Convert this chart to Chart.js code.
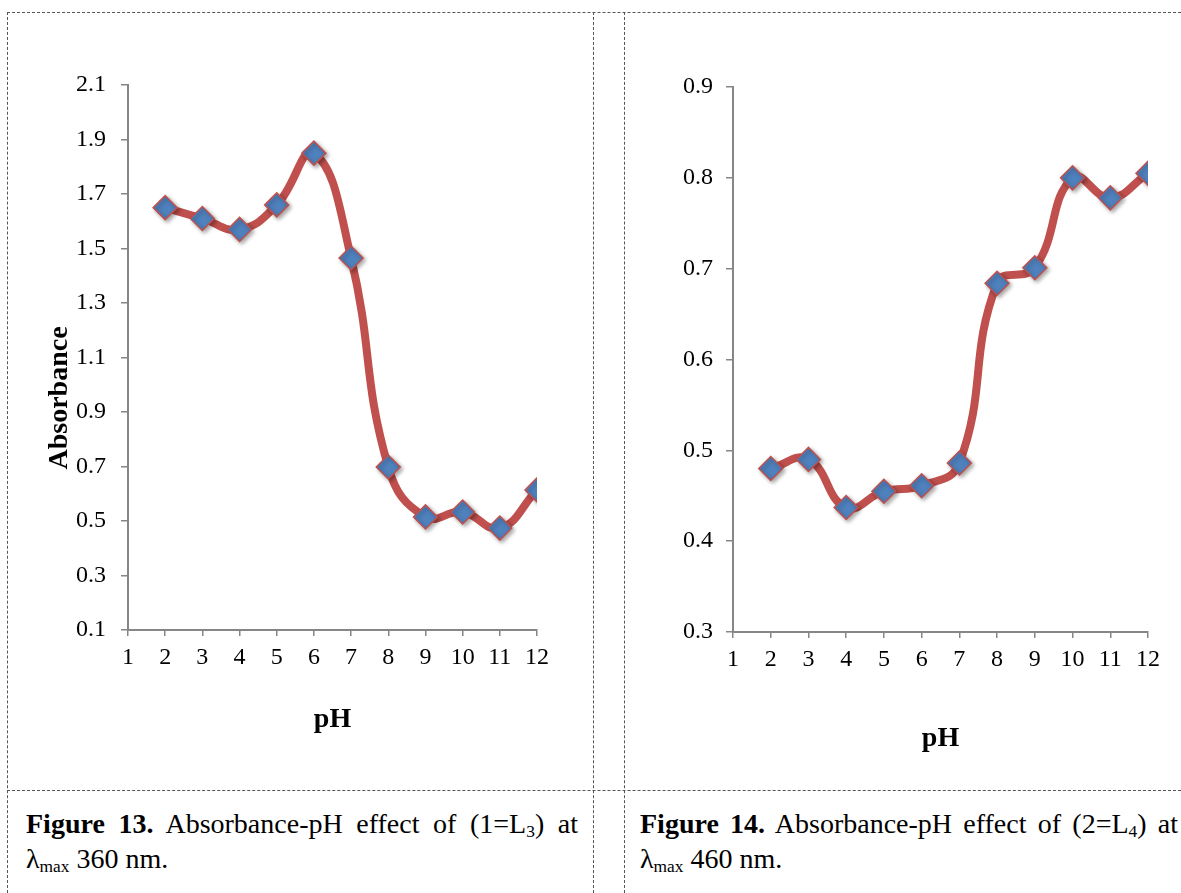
<!DOCTYPE html>
<html>
<head>
<meta charset="utf-8">
<script src="https://cdn.jsdelivr.net/npm/chart.js@4.4.1/dist/chart.umd.min.js"></script>
<style>
  body { margin: 0; background: #fff; width: 1181px; height: 893px; overflow: hidden; position: relative;
         font-family: "Liberation Serif", "Times New Roman", serif; }
  .h { position: absolute; height: 0; border-top: 1px dashed #555; }
  .v { position: absolute; width: 0; border-left: 1px dashed #555; }
  canvas { position: absolute; top: 0; }
  #c1 { left: 0; }
  #c2 { left: 600px; }
  .cap { position: absolute; top: 806px; font-size: 28px; line-height: 35px; color: #000; }
  .cap .l1 { display: block; text-align: justify; text-align-last: justify; white-space: nowrap; }
  .cap sub { font-size: 0.62em; vertical-align: -0.25em; line-height: 0; }
</style>
</head>
<body>
<!-- table borders -->
<div class="h" style="left:7px; top:12px; width:1174px;"></div>
<div class="h" style="left:7px; top:790px; width:1174px;"></div>
<div class="v" style="left:7px; top:12px; height:881px;"></div>
<div class="v" style="left:593px; top:12px; height:881px;"></div>
<div class="v" style="left:624px; top:12px; height:881px;"></div>

<canvas id="c1" width="593" height="790"></canvas>
<canvas id="c2" width="581" height="790"></canvas>

<div class="cap" style="left:26px; width:552px;">
  <span class="l1"><b>Figure 13.</b> Absorbance-pH effect of (1=L<sub>3</sub>) at</span>
  λ<sub>max</sub> 360 nm.
</div>
<div class="cap" style="left:640px; width:538px;">
  <span class="l1"><b>Figure 14.</b> Absorbance-pH effect of (2=L<sub>4</sub>) at</span>
  λ<sub>max</sub> 460 nm.
</div>

<script>
// data
const pH = [2, 3, 4, 5, 6, 7, 8, 9, 10, 11, 12];
const absL3 = [1.65, 1.61, 1.57, 1.66, 1.85, 1.465, 0.698, 0.515, 0.533, 0.474, 0.614];
const absL4 = [0.48, 0.49, 0.437, 0.455, 0.461, 0.486, 0.684, 0.701, 0.80, 0.778, 0.805];
const xTicks = [1, 2, 3, 4, 5, 6, 7, 8, 9, 10, 11, 12];
const yTicksL3 = [0.1, 0.3, 0.5, 0.7, 0.9, 1.1, 1.3, 1.5, 1.7, 1.9, 2.1];
const yTicksL4 = [0.3, 0.4, 0.5, 0.6, 0.7, 0.8, 0.9];

const axisGrey = "#868686";
const lineRed = "#C0504D";
const markerBlue = "#4F81BD";
const serif = "'Liberation Serif', 'Times New Roman', serif";

// rotated y title, drawn by hand so it can sit off-centre like the original
const yTitle = {
  id: "yTitle",
  afterDraw(chart, args, opts) {
    const ctx = chart.ctx;
    ctx.save();
    ctx.translate(opts.x, opts.y);
    ctx.rotate(-Math.PI / 2);
    ctx.font = "bold 28px " + serif;
    ctx.fillStyle = "#000";
    ctx.textAlign = "center";
    ctx.textBaseline = "middle";
    ctx.fillText(opts.text, 0, 0);
    ctx.restore();
  },
};

// soft drop shadow under the diamonds only (dataset 0)
const markerShadow = {
  id: "markerShadow",
  beforeDatasetDraw(chart, args) {
    if (args.index !== 0) return;
    const c = chart.ctx;
    c.save();
    c.shadowColor = "rgba(0,0,0,0.35)";
    c.shadowBlur = 4;
    c.shadowOffsetX = 2;
    c.shadowOffsetY = 2;
  },
  afterDatasetDraw(chart, args) {
    if (args.index === 0) chart.ctx.restore();
  },
};

function makeChart(id, ys, yTicks, box) {
  const pts = pH.map((x, i) => ({ x: x, y: ys[i] }));
  return new Chart(document.getElementById(id), {
    type: "scatter",
    data: {
      datasets: [
        {
          data: pts,
          showLine: false,
          pointStyle: "rectRot",
          pointRadius: 12,
          pointHoverRadius: 12,
          pointBackgroundColor: markerBlue,
          pointBorderColor: lineRed,
          pointBorderWidth: 1.5,
        },
        {
          data: pts,
          showLine: true,
          borderColor: lineRed,
          borderWidth: 8,
          tension: 0.45,
          pointRadius: 0,
          pointHoverRadius: 0,
        },
      ],
    },
    options: {
      responsive: false,
      animation: false,
      events: [],
      layout: { padding: { top: box.top, right: box.right, left: 0, bottom: 0 } },
      plugins: {
        legend: { display: false },
        tooltip: { enabled: false },
        yTitle: { text: "Absorbance", x: box.titleX, y: box.titleY },
      },
      scales: {
        x: {
          type: "linear",
          min: xTicks[0],
          max: xTicks[xTicks.length - 1],
          afterBuildTicks: (s) => { s.ticks = xTicks.map((v) => ({ value: v })); },
          afterFit: (s) => { s.height = box.xHeight; },
          border: { display: true, color: axisGrey, width: 2 },
          grid: { drawOnChartArea: false, drawTicks: true, tickLength: 6, color: axisGrey, lineWidth: 1.5 },
          ticks: { color: "#000", font: { family: serif, size: 24 }, padding: 7, maxRotation: 0, autoSkip: false },
          title: { display: true, text: "pH", color: "#000", font: { family: serif, size: 28, weight: "bold" },
                   padding: { top: 0, bottom: box.pHpad } },
        },
        y: {
          type: "linear",
          min: yTicks[0],
          max: yTicks[yTicks.length - 1],
          afterBuildTicks: (s) => { s.ticks = yTicks.map((v) => ({ value: v })); },
          afterFit: (s) => { s.width = box.yWidth; },
          border: { display: true, color: axisGrey, width: 2 },
          grid: { drawOnChartArea: false, drawTicks: true, tickLength: 7, color: axisGrey, lineWidth: 1.5 },
          ticks: { color: "#000", font: { family: serif, size: 24 }, padding: box.yPad,
                   callback: (v) => Number(v).toFixed(1) },
        },
      },
    },
    plugins: [yTitle, markerShadow],
  });
}

makeChart("c1", absL3, yTicksL3,
  { top: 85, right: 56, yWidth: 128, xHeight: 160, yPad: 15, pHpad: 53, titleX: 60, titleY: 398 });
makeChart("c2", absL4, yTicksL4,
  { top: 87, right: 33, yWidth: 133, xHeight: 158, yPad: 13, pHpad: 34, titleX: 665, titleY: 407 });
</script>
</body>
</html>
